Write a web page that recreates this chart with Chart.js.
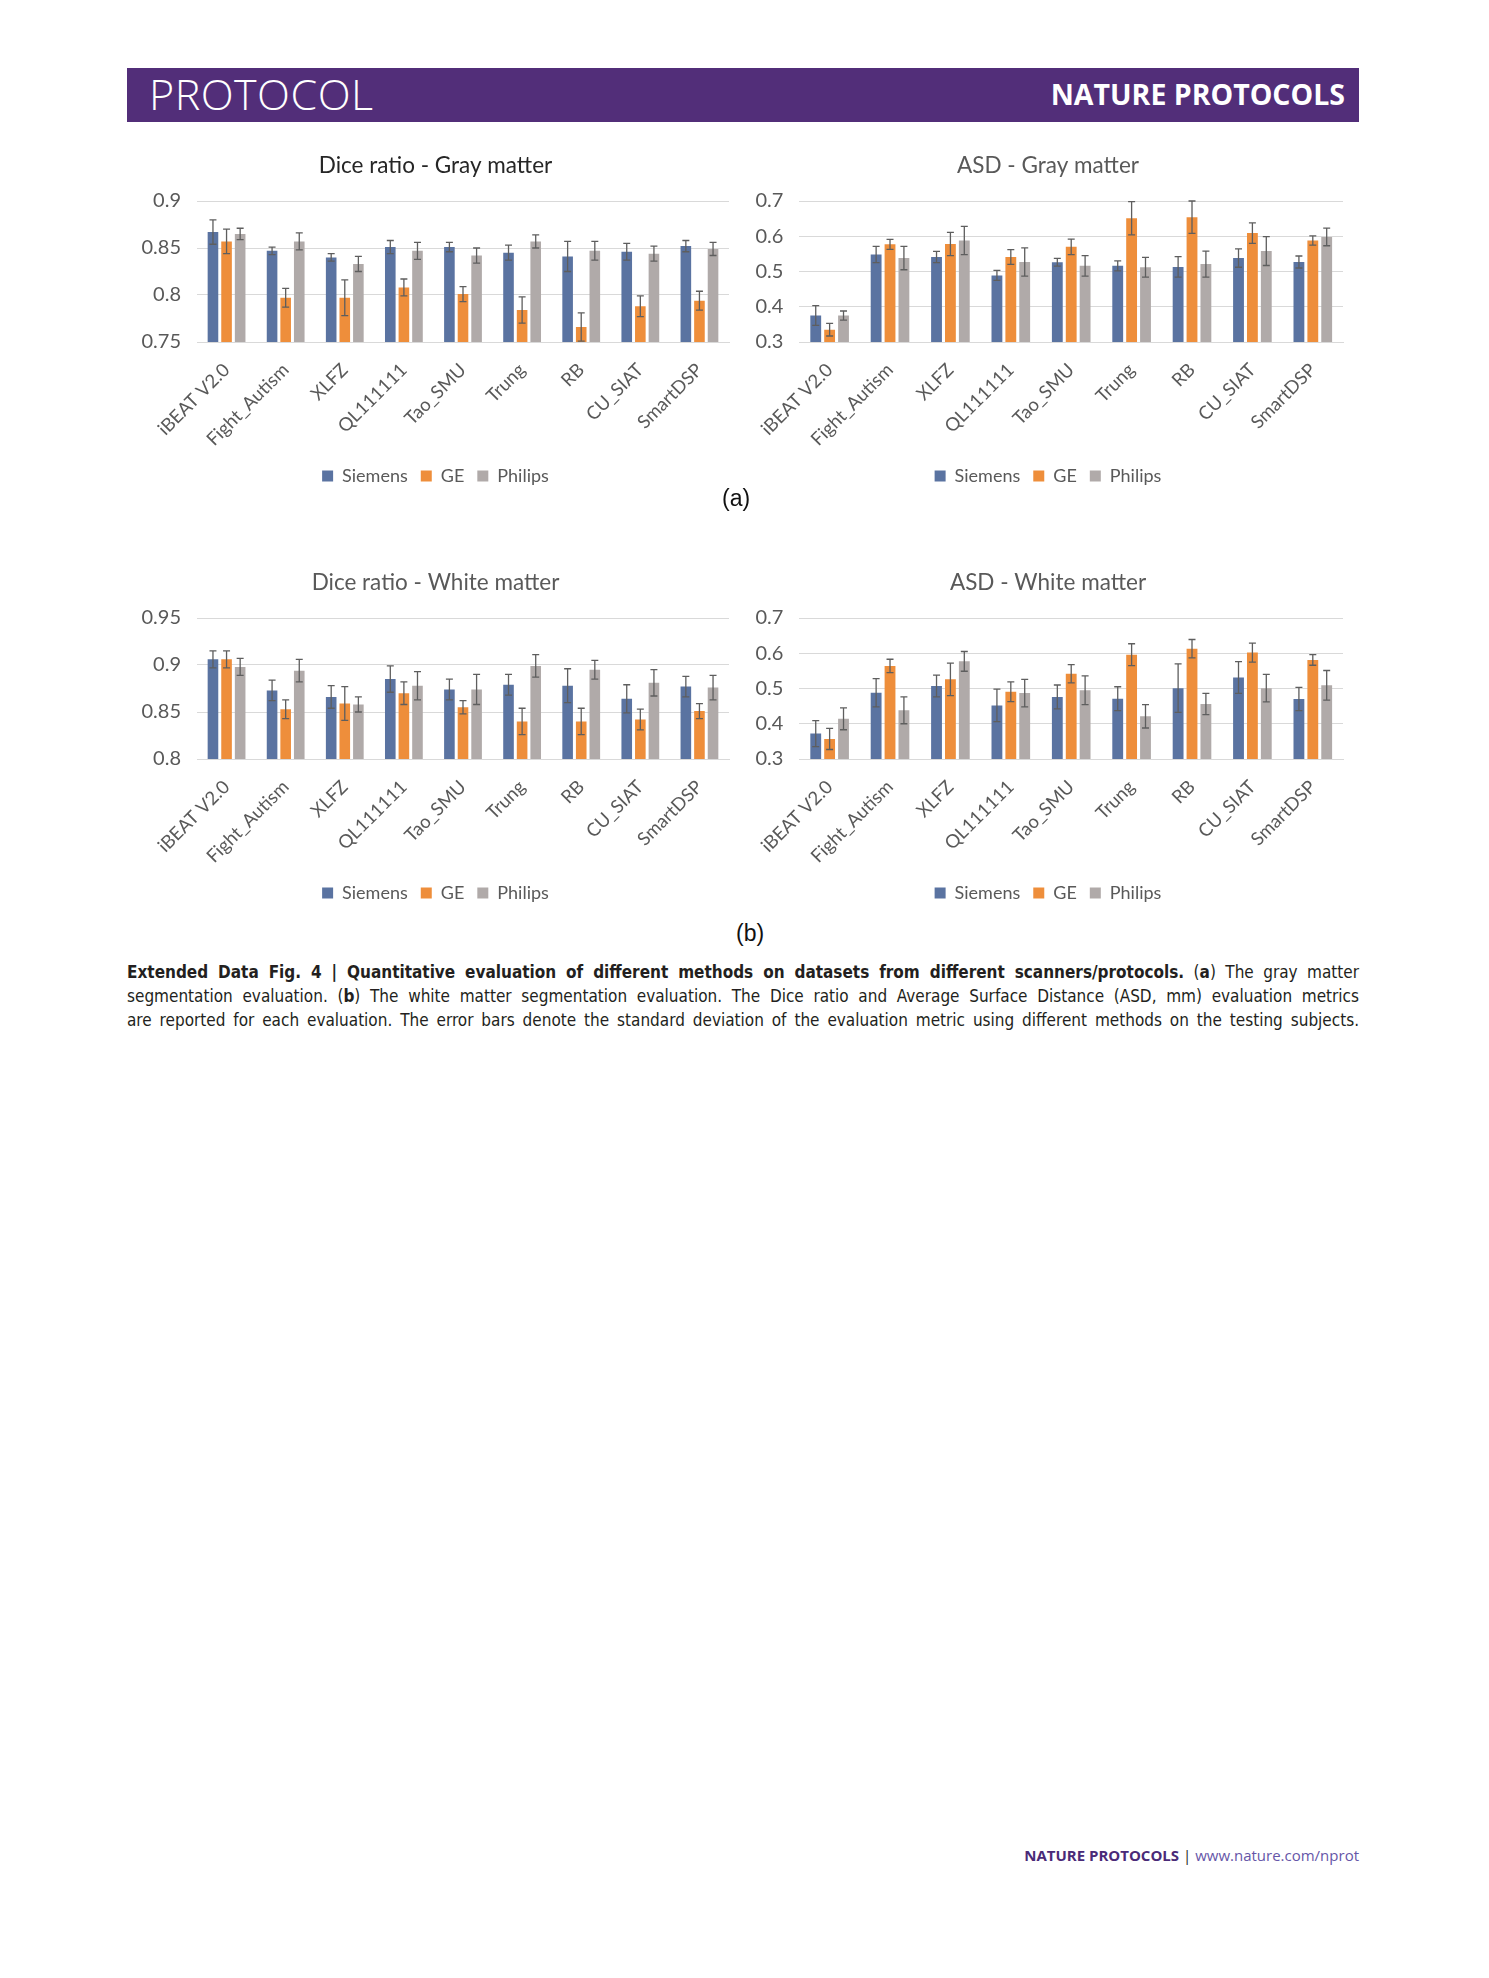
<!DOCTYPE html>
<html><head><meta charset="utf-8">
<script src="https://cdn.jsdelivr.net/npm/chart.js@4.4.1/dist/chart.umd.min.js"></script>
<style>
html,body{margin:0;padding:0;background:#fff;}
body{width:1489px;height:1978px;position:relative;overflow:hidden;font-family:"Open Sans",sans-serif;}
#hdr{position:absolute;left:127px;top:68px;width:1232px;height:54px;background:#522E79;color:#fff;}
#hdr .l{position:absolute;left:22px;top:2px;font-family:"Open Sans",sans-serif;font-weight:300;font-size:43px;line-height:48px;letter-spacing:0.5px;}
#hdr .r{position:absolute;right:14px;top:9px;font-family:"Open Sans",sans-serif;font-weight:700;font-size:28.5px;line-height:34px;}
.box{position:absolute;}
.lab{position:absolute;font-family:"Liberation Sans",Arial,sans-serif;font-size:23px;line-height:26px;color:#111;}
#cap{position:absolute;left:127px;top:960px;width:1232px;font-family:"Liberation Sans Narrow","DejaVu Sans Condensed","Liberation Sans",sans-serif;font-size:17px;line-height:24px;color:#231F20;}
#cap div{text-align:justify;text-align-last:justify;}
#foot{position:absolute;right:130px;top:1845px;font-family:"Open Sans",sans-serif;font-size:15px;line-height:20px;}
#foot b{color:#4A2A78;font-weight:700;}
#foot span{color:#6656A8;}
</style></head><body>
<div id="hdr"><div class="l">PROTOCOL</div><div class="r">NATURE PROTOCOLS</div></div>

<div class="box" style="left:142px;top:145px;width:593px;height:350px;"><canvas id="c1"></canvas></div>
<div class="box" style="left:753px;top:145px;width:597px;height:350px;"><canvas id="c2"></canvas></div>
<div class="box" style="left:142px;top:562px;width:593px;height:350px;"><canvas id="c3"></canvas></div>
<div class="box" style="left:753px;top:562px;width:597px;height:350px;"><canvas id="c4"></canvas></div>

<div class="lab" style="left:722px;top:485px;">(a)</div>
<div class="lab" style="left:736px;top:920px;">(b)</div>

<div id="cap">
<div><b>Extended Data Fig. 4 | Quantitative evaluation of different methods on datasets from different scanners/protocols.</b> (<b>a</b>) The gray matter</div>
<div>segmentation evaluation. (<b>b</b>) The white matter segmentation evaluation. The Dice ratio and Average Surface Distance (ASD, mm) evaluation metrics</div>
<div>are reported for each evaluation. The error bars denote the standard deviation of the evaluation metric using different methods on the testing subjects.</div>
</div>

<div id="foot"><b>NATURE PROTOCOLS</b><span style="color:#231F20"> | </span><span>www.nature.com/nprot</span></div>

<script>
const categories = ["iBEAT V2.0","Fight_Autism","XLFZ","QL111111","Tao_SMU","Trung","RB","CU_SIAT","SmartDSP"];
const seriesNames = ["Siemens","GE","Philips"];
const seriesColors = ["#5A73A1","#EE8E3B","#B0AAA9"];

// Dice ratio - Gray matter
const diceGrayTicks = [0.75, 0.8, 0.85, 0.9];
const diceGraySiemens    = [0.867,0.847,0.840,0.851,0.851,0.845,0.841,0.846,0.852];
const diceGraySiemensErr = [0.013,0.004,0.004,0.007,0.005,0.008,0.016,0.009,0.006];
const diceGrayGE         = [0.857,0.797,0.797,0.808,0.801,0.784,0.766,0.788,0.794];
const diceGrayGEErr      = [0.013,0.010,0.019,0.009,0.008,0.014,0.015,0.011,0.010];
const diceGrayPhilips    = [0.865,0.857,0.833,0.847,0.842,0.857,0.847,0.844,0.849];
const diceGrayPhilipsErr = [0.006,0.009,0.008,0.009,0.008,0.007,0.010,0.008,0.007];

// ASD - Gray matter
const asdGrayTicks = [0.3, 0.4, 0.5, 0.6, 0.7];
const asdGraySiemens    = [0.375,0.548,0.541,0.489,0.526,0.516,0.513,0.538,0.527];
const asdGraySiemensErr = [0.028,0.023,0.016,0.014,0.011,0.014,0.029,0.026,0.017];
const asdGrayGE         = [0.335,0.577,0.578,0.541,0.570,0.651,0.654,0.609,0.588];
const asdGrayGEErr      = [0.018,0.014,0.033,0.021,0.022,0.047,0.046,0.029,0.013];
const asdGrayPhilips    = [0.375,0.538,0.588,0.527,0.516,0.512,0.521,0.558,0.598];
const asdGrayPhilipsErr = [0.013,0.033,0.040,0.040,0.029,0.028,0.037,0.041,0.025];

// Dice ratio - White matter
const diceWhiteTicks = [0.8, 0.85, 0.9, 0.95];
const diceWhiteSiemens    = [0.906,0.873,0.866,0.885,0.874,0.879,0.878,0.864,0.877];
const diceWhiteSiemensErr = [0.009,0.011,0.012,0.014,0.011,0.011,0.018,0.015,0.011];
const diceWhiteGE         = [0.906,0.853,0.859,0.870,0.855,0.840,0.840,0.842,0.851];
const diceWhiteGEErr      = [0.009,0.010,0.018,0.012,0.007,0.014,0.014,0.011,0.008];
const diceWhitePhilips    = [0.898,0.894,0.858,0.878,0.874,0.899,0.895,0.881,0.876];
const diceWhitePhilipsErr = [0.009,0.012,0.008,0.015,0.016,0.012,0.010,0.014,0.013];

// ASD - White matter
const asdWhiteTicks = [0.3, 0.4, 0.5, 0.6, 0.7];
const asdWhiteSiemens    = [0.372,0.488,0.507,0.452,0.476,0.471,0.501,0.531,0.470];
const asdWhiteSiemensErr = [0.037,0.040,0.031,0.046,0.034,0.034,0.069,0.045,0.033];
const asdWhiteGE         = [0.357,0.564,0.526,0.491,0.542,0.596,0.613,0.602,0.581];
const asdWhiteGEErr      = [0.030,0.019,0.046,0.028,0.026,0.031,0.026,0.027,0.015];
const asdWhitePhilips    = [0.414,0.438,0.577,0.487,0.495,0.421,0.456,0.501,0.509];
const asdWhitePhilipsErr = [0.031,0.038,0.028,0.039,0.041,0.033,0.030,0.039,0.042];

const errorBars = {
  id: 'errorBars',
  afterDatasetsDraw(chart) {
    const ctx = chart.ctx, ys = chart.scales.y;
    ctx.save();
    ctx.strokeStyle = '#5E5E5E';
    ctx.lineWidth = 1.3;
    chart.data.datasets.forEach((ds, di) => {
      const meta = chart.getDatasetMeta(di);
      meta.data.forEach((bar, i) => {
        const v = ds.data[i], e = ds.errors[i];
        const x = bar.x;
        const y1 = ys.getPixelForValue(v + e), y2 = ys.getPixelForValue(v - e);
        ctx.beginPath();
        ctx.moveTo(x, y1); ctx.lineTo(x, y2);
        ctx.moveTo(x - 3.5, y1); ctx.lineTo(x + 3.5, y1);
        ctx.moveTo(x - 3.5, y2); ctx.lineTo(x + 3.5, y2);
        ctx.stroke();
      });
    });
    ctx.restore();
  }
};

const FONT = 'Lato';
function makeChart(id, title, titleColor, ticks, vals, errs, yW, padR) {
  return new Chart(document.getElementById(id), {
    type: 'bar',
    data: {
      labels: categories,
      datasets: seriesNames.map((n, k) => ({
        label: n, data: vals[k], errors: errs[k],
        backgroundColor: seriesColors[k], borderWidth: 0,
        categoryPercentage: 0.69, barPercentage: 0.78
      }))
    },
    options: {
      responsive: true, maintainAspectRatio: false, animation: false,
      layout: { padding: { left: 0, right: padR, top: 0, bottom: 0 } },
      plugins: {
        title: { display: true, text: title, color: titleColor,
          font: { family: FONT, size: 22.5, weight: 'normal' }, padding: { top: 7, bottom: 22 } },
        legend: { position: 'bottom',
          labels: { color: '#595959', font: { family: FONT, size: 18 }, boxWidth: 11, boxHeight: 11, padding: 13 } },
        tooltip: { enabled: false }
      },
      scales: {
        x: {
          grid: { display: false },
          border: { display: true, color: '#D9D9D9', width: 1 },
          ticks: { color: '#595959', font: { family: FONT, size: 18.5 }, minRotation: 45, maxRotation: 45, autoSkip: false, padding: 9 },
          afterFit: s => { s.height = 112; }
        },
        y: {
          min: ticks[0], max: ticks[ticks.length - 1],
          afterBuildTicks: s => { s.ticks = ticks.map(v => ({ value: v })); },
          grid: { color: '#D9D9D9', drawTicks: false },
          border: { display: false },
          ticks: { color: '#595959', font: { family: FONT, size: 20 }, padding: 16,
            callback: v => String(v) },
          afterFit: s => { s.width = yW; }
        }
      }
    },
    plugins: [errorBars]
  });
}

makeChart('c1', 'Dice ratio - Gray matter', '#262626', diceGrayTicks,
  [diceGraySiemens, diceGrayGE, diceGrayPhilips],
  [diceGraySiemensErr, diceGrayGEErr, diceGrayPhilipsErr], 55, 6);
makeChart('c2', 'ASD - Gray matter', '#595959', asdGrayTicks,
  [asdGraySiemens, asdGrayGE, asdGrayPhilips],
  [asdGraySiemensErr, asdGrayGEErr, asdGrayPhilipsErr], 44, 7);
makeChart('c3', 'Dice ratio - White matter', '#595959', diceWhiteTicks,
  [diceWhiteSiemens, diceWhiteGE, diceWhitePhilips],
  [diceWhiteSiemensErr, diceWhiteGEErr, diceWhitePhilipsErr], 55, 6);
makeChart('c4', 'ASD - White matter', '#595959', asdWhiteTicks,
  [asdWhiteSiemens, asdWhiteGE, asdWhitePhilips],
  [asdWhiteSiemensErr, asdWhiteGEErr, asdWhitePhilipsErr], 44, 7);
</script>
</body></html>
